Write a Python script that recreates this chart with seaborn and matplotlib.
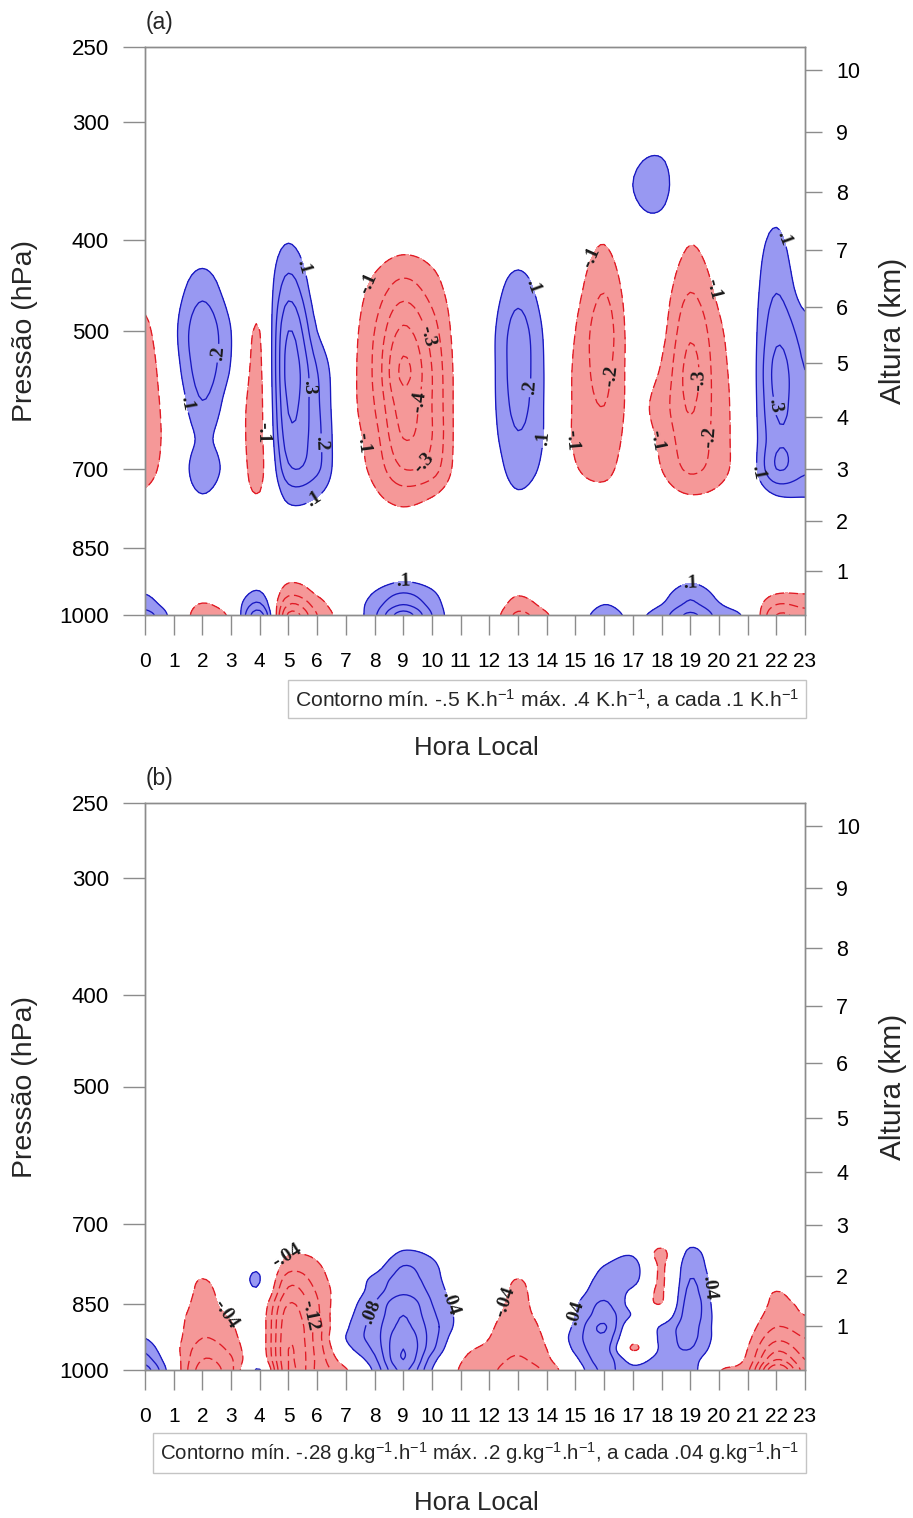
import numpy as np
import matplotlib
matplotlib.use("Agg")
import matplotlib.pyplot as plt
from matplotlib.ticker import NullLocator
import seaborn as sns

# ---------------------------------------------------------------------------
# Data
# ---------------------------------------------------------------------------
HOURS = [0, 1, 2, 3, 4, 5, 6, 7, 8, 9, 10, 11, 12, 13, 14, 15, 16, 17, 18, 19, 20, 21, 22, 23]

PRESS_TICKS = [250, 300, 400, 500, 700, 850, 1000]
ALT_TICKS_KM = [1, 2, 3, 4, 5, 6, 7, 8, 9, 10]

# (a) heating-rate anomaly (K/h), one row per pressure level, columns = local hour 0..23
LEV_A = [1000, 975, 950, 925, 900, 875, 850, 800, 750, 700, 650, 600, 550, 500, 450, 400, 350, 300, 250]
q1_p1000 = [0.25, 0.05, -0.17, -0.06, 0.35, -0.42, -0.20, -0.02, 0.18, 0.45, 0.20, 0.00, -0.02, -0.22, -0.11, 0.03, 0.14, 0.08, 0.15, 0.32, 0.16, 0.06, -0.30, -0.25]
q1_p975 = [0.15, 0.03, -0.11, -0.01, 0.22, -0.30, -0.15, 0.00, 0.15, 0.30, 0.16, 0.00, 0.00, -0.15, -0.06, 0.01, 0.10, 0.05, 0.10, 0.22, 0.11, 0.02, -0.20, -0.17]
q1_p950 = [0.10, 0.02, -0.04, 0.00, 0.12, -0.18, -0.09, 0.00, 0.11, 0.21, 0.12, 0.00, 0.00, -0.09, -0.02, 0.00, 0.05, 0.02, 0.06, 0.18, 0.07, 0.00, -0.10, -0.10]
q1_p925 = [0.05, 0.00, 0.00, 0.00, 0.06, -0.10, -0.05, 0.00, 0.06, 0.11, 0.07, 0.00, 0.00, -0.04, 0.00, 0.00, 0.01, 0.00, 0.02, 0.10, 0.03, 0.00, -0.04, -0.04]
q1_p900 = [0.02, 0.00, 0.00, 0.00, 0.02, -0.04, -0.02, 0.00, 0.02, 0.05, 0.02, 0.00, 0.00, 0.00, 0.00, 0.00, 0.00, 0.00, 0.00, 0.04, 0.00, 0.00, 0.00, 0.00]
q1_p875 = [0.00, 0.00, 0.00, 0.00, 0.00, 0.00, 0.00, 0.00, 0.00, 0.01, 0.00, 0.00, 0.00, 0.00, 0.00, 0.00, 0.00, 0.00, 0.00, 0.00, 0.00, 0.00, 0.00, 0.00]
q1_p850 = [0.00, 0.00, 0.00, 0.00, 0.00, 0.00, 0.00, 0.00, 0.00, 0.00, 0.00, 0.00, 0.00, 0.00, 0.00, 0.00, 0.00, 0.00, 0.00, 0.00, 0.00, 0.00, 0.00, 0.00]
q1_p800 = [-0.02, 0.00, 0.01, 0.00, -0.02, 0.03, 0.02, 0.00, -0.03, -0.05, -0.03, 0.00, 0.00, 0.00, 0.00, 0.00, 0.00, 0.00, -0.01, -0.02, -0.02, 0.00, 0.02, 0.02]
q1_p750 = [-0.08, -0.01, 0.09, 0.00, -0.09, 0.13, 0.10, -0.01, -0.08, -0.14, -0.10, -0.02, 0.00, 0.08, 0.02, -0.04, -0.06, -0.02, -0.05, -0.09, -0.07, -0.01, 0.09, 0.10]
q1_p700 = [-0.14, -0.02, 0.17, 0.03, -0.13, 0.28, 0.22, -0.02, -0.13, -0.30, -0.25, -0.04, 0.02, 0.15, 0.06, -0.09, -0.13, -0.04, -0.10, -0.22, -0.14, 0.00, 0.30, 0.22]
q1_p650 = [-0.17, -0.03, 0.12, 0.01, -0.13, 0.36, 0.23, -0.02, -0.16, -0.40, -0.30, -0.04, 0.05, 0.19, 0.08, -0.12, -0.17, -0.06, -0.12, -0.27, -0.15, 0.00, 0.28, 0.24]
q1_p600 = [-0.17, -0.01, 0.19, 0.03, -0.13, 0.41, 0.22, -0.03, -0.20, -0.45, -0.30, -0.04, 0.06, 0.23, 0.08, -0.12, -0.20, -0.07, -0.15, -0.31, -0.15, 0.00, 0.31, 0.23]
q1_p550 = [-0.17, 0.04, 0.25, 0.09, -0.12, 0.44, 0.20, -0.03, -0.22, -0.52, -0.30, -0.04, 0.06, 0.25, 0.08, -0.12, -0.23, -0.06, -0.11, -0.33, -0.14, 0.00, 0.33, 0.20]
q1_p500 = [-0.13, 0.07, 0.27, 0.10, -0.10, 0.40, 0.10, -0.03, -0.20, -0.42, -0.25, -0.03, 0.06, 0.24, 0.07, -0.10, -0.25, -0.05, -0.07, -0.28, -0.12, 0.01, 0.27, 0.15]
q1_p450 = [-0.05, 0.04, 0.16, 0.04, -0.04, 0.25, 0.03, -0.02, -0.13, -0.24, -0.15, -0.02, 0.03, 0.15, 0.03, -0.06, -0.19, -0.03, -0.04, -0.19, -0.07, 0.02, 0.19, 0.04]
q1_p400 = [0.00, 0.00, 0.02, 0.00, 0.00, 0.09, 0.00, -0.01, -0.03, -0.05, -0.04, 0.00, 0.00, 0.02, 0.00, -0.02, -0.09, 0.03, 0.03, -0.09, -0.02, 0.02, 0.12, 0.00]
q1_p350 = [0.00, 0.00, 0.00, 0.00, 0.00, 0.00, 0.00, 0.00, 0.00, 0.00, 0.00, 0.00, 0.00, 0.00, 0.00, 0.00, 0.00, 0.10, 0.135, -0.02, 0.00, 0.00, 0.03, 0.00]
q1_p300 = [0.00, 0.00, 0.00, 0.00, 0.00, 0.00, 0.00, 0.00, 0.00, 0.00, 0.00, 0.00, 0.00, 0.00, 0.00, 0.00, 0.00, 0.03, 0.03, 0.00, 0.00, 0.00, 0.00, 0.00]
q1_p250 = [0.00, 0.00, 0.00, 0.00, 0.00, 0.00, 0.00, 0.00, 0.00, 0.00, 0.00, 0.00, 0.00, 0.00, 0.00, 0.00, 0.00, 0.00, 0.00, 0.00, 0.00, 0.00, 0.00, 0.00]

# (b) moistening-rate anomaly (g/kg/h)
LEV_B = [1000, 975, 950, 925, 900, 875, 850, 825, 800, 775, 750, 725, 700]
q2_p1000 = [0.14, 0.00, -0.14, -0.09, 0.042, -0.20, -0.11, -0.045, 0.05, 0.17, 0.04, -0.045, -0.07, -0.10, -0.07, 0.01, 0.09, 0.05, 0.07, 0.06, -0.035, -0.07, -0.28, -0.14]
q2_p975 = [0.10, -0.01, -0.12, -0.085, 0.00, -0.20, -0.11, -0.01, 0.07, 0.20, 0.06, -0.035, -0.06, -0.085, -0.05, 0.03, 0.10, 0.02, 0.06, 0.06, -0.01, -0.05, -0.20, -0.12]
q2_p950 = [0.07, -0.02, -0.10, -0.07, -0.01, -0.20, -0.105, 0.02, 0.09, 0.20, 0.09, -0.02, -0.05, -0.075, -0.04, 0.05, 0.10, -0.045, 0.05, 0.08, 0.01, -0.04, -0.15, -0.10]
q2_p925 = [0.04, -0.02, -0.08, -0.055, -0.01, -0.195, -0.10, 0.04, 0.10, 0.19, 0.10, 0.00, -0.04, -0.08, -0.03, 0.06, 0.11, -0.02, 0.05, 0.09, 0.02, -0.03, -0.11, -0.08]
q2_p900 = [0.02, -0.02, -0.07, -0.045, -0.01, -0.19, -0.10, 0.03, 0.10, 0.17, 0.10, 0.02, -0.03, -0.075, -0.02, 0.05, 0.125, 0.00, 0.045, 0.095, 0.02, -0.02, -0.08, -0.06]
q2_p875 = [0.01, -0.02, -0.06, -0.035, -0.01, -0.18, -0.09, 0.02, 0.09, 0.16, 0.09, 0.025, -0.02, -0.06, -0.01, 0.04, 0.10, 0.035, 0.00, 0.10, 0.02, -0.01, -0.06, -0.04]
q2_p850 = [0.00, -0.01, -0.055, -0.02, 0.00, -0.16, -0.085, 0.01, 0.08, 0.15, 0.08, 0.02, -0.01, -0.055, 0.00, 0.035, 0.085, 0.02, -0.04, 0.10, 0.015, 0.00, -0.05, -0.03]
q2_p825 = [0.00, 0.00, -0.05, -0.01, 0.03, -0.13, -0.075, 0.00, 0.06, 0.11, 0.07, 0.01, 0.00, -0.05, 0.00, 0.02, 0.065, 0.03, -0.045, 0.09, 0.01, 0.00, -0.04, -0.01]
q2_p800 = [0.00, 0.00, -0.04, 0.00, 0.041, -0.10, -0.06, 0.00, 0.05, 0.095, 0.06, 0.00, 0.00, -0.04, 0.00, 0.01, 0.055, 0.06, -0.045, 0.08, 0.01, 0.00, -0.01, 0.00]
q2_p775 = [0.00, 0.00, -0.01, 0.00, 0.03, -0.06, -0.045, 0.00, 0.02, 0.08, 0.05, 0.00, 0.00, -0.01, 0.00, 0.00, 0.04, 0.06, -0.045, 0.07, 0.00, 0.00, 0.00, 0.00]
q2_p750 = [0.00, 0.00, 0.00, 0.00, 0.00, -0.035, -0.03, 0.00, 0.00, 0.045, 0.03, 0.00, 0.00, 0.00, 0.00, 0.00, 0.01, 0.03, -0.05, 0.05, 0.00, 0.00, 0.00, 0.00]
q2_p725 = [0.00, 0.00, 0.00, 0.00, 0.00, -0.01, -0.01, 0.00, 0.00, 0.01, 0.00, 0.00, 0.00, 0.00, 0.00, 0.00, 0.00, 0.00, -0.01, 0.02, 0.00, 0.00, 0.00, 0.00]
q2_p700 = [0.00, 0.00, 0.00, 0.00, 0.00, 0.00, 0.00, 0.00, 0.00, 0.00, 0.00, 0.00, 0.00, 0.00, 0.00, 0.00, 0.00, 0.00, 0.00, 0.00, 0.00, 0.00, 0.00, 0.00]

CLEV_A_NEG = [-0.5, -0.4, -0.3, -0.2, -0.1]
CLEV_A_POS = [0.1, 0.2, 0.3, 0.4]
CLEV_B_NEG = [-0.28, -0.24, -0.2, -0.16, -0.12, -0.08, -0.04]
CLEV_B_POS = [0.04, 0.08, 0.12, 0.16, 0.2]

# ---------------------------------------------------------------------------
# Styling
# ---------------------------------------------------------------------------
sns.set_theme(style="ticks")
plt.rcParams["font.family"] = ["Liberation Sans", "DejaVu Sans"]
plt.rcParams["mathtext.fontset"] = "custom"
plt.rcParams["mathtext.rm"] = "Liberation Sans"
plt.rcParams["mathtext.default"] = "rm"

pal = sns.color_palette(["#9898f2", "#f59898", "#1818c0", "#e01a24"])
BLUE_FILL, RED_FILL, BLUE_LINE, RED_LINE = pal
GRAY = "#8c8c8c"
DASH = (0, (7, 3.5))

W, H = 913, 1518


def fx(px):
    return px / W


def fy(py):
    return 1 - py / H


def isa_pressure(z_km):
    """Standard-atmosphere pressure (hPa) at height z (km)."""
    return 1013.25 * (1.0 - 2.25577e-5 * np.asarray(z_km) * 1000.0) ** 5.25588


def _catmull_rom(z, factor):
    n = z.shape[0]
    t = np.linspace(0, n - 1, (n - 1) * factor + 1)
    i = np.minimum(np.floor(t).astype(int), n - 2)
    s = (t - i)[:, None]
    p0 = z[np.maximum(i - 1, 0)]
    p1 = z[i]
    p2 = z[i + 1]
    p3 = z[np.minimum(i + 2, n - 1)]
    out = 0.5 * (2 * p1 + (p2 - p0) * s + (2 * p0 - 5 * p1 + 4 * p2 - p3) * s ** 2
                 + (3 * p1 - p0 - 3 * p2 + p3) * s ** 3)
    return out, t


def smooth_grid(field, levels, hours, factor=8):
    z = np.asarray(field, dtype=float)
    zh, th = _catmull_rom(z.T, factor)          # along time
    zz, tl = _catmull_rom(zh.T, factor)         # along pressure level index
    hf = np.interp(th, np.arange(len(hours)), hours)
    pf = np.exp(np.interp(tl, np.arange(len(levels)), np.log(levels)))
    return hf, pf, zz


def fmt_a(v):
    return f"{v:.1f}".replace("0.", ".")


def fmt_b(v):
    return f"{v:.2f}".replace("0.", ".")


def draw_panel(ax, field, levels, neg, pos, fmt, lab_neg, lab_pos):
    hf, pf, zf = smooth_grid(field, levels, HOURS)
    ax.set_yscale("log")
    ax.set_xlim(HOURS[0], HOURS[-1])
    ax.set_ylim(1000, 250)
    ax.contourf(hf, pf, zf, levels=[-10, neg[-1]], colors=[RED_FILL])
    ax.contourf(hf, pf, zf, levels=[pos[0], 10], colors=[BLUE_FILL])
    cn = ax.contour(hf, pf, zf, levels=neg, colors=[RED_LINE], linewidths=0.95,
                    linestyles=[DASH])
    cp = ax.contour(hf, pf, zf, levels=pos, colors=[BLUE_LINE], linewidths=0.95,
                    linestyles="solid")
    with plt.rc_context({"font.family": ["Liberation Serif"], "font.weight": "bold"}):
        ax.clabel(cn, fmt=fmt, manual=lab_neg, inline=True, inline_spacing=2,
                  fontsize=14, colors="k")
        ax.clabel(cp, fmt=fmt, manual=lab_pos, inline=True, inline_spacing=2,
                  fontsize=14, colors="k")

    ax.set_yticks(PRESS_TICKS)
    ax.set_yticklabels([str(p) for p in PRESS_TICKS])
    ax.yaxis.set_minor_locator(NullLocator())
    ax.set_xticks(HOURS)
    ax.set_xticklabels([str(h) for h in HOURS])
    ax.tick_params(axis="y", which="major", direction="out", length=16, width=1.0,
                   color=GRAY, labelcolor="black", labelsize=16, pad=10, left=True)
    ax.tick_params(axis="x", which="major", direction="out", length=14.5, width=1.0,
                   color=GRAY, labelcolor="black", labelsize=15, pad=12, bottom=True)
    for sp in ax.spines.values():
        sp.set_color(GRAY)
        sp.set_linewidth(1.0)
        sp.set_visible(True)

    tw = ax.twinx()
    tw.set_yscale("log")
    tw.set_ylim(1000, 250)
    tw.set_yticks(isa_pressure(ALT_TICKS_KM))
    tw.set_yticklabels([str(k) for k in ALT_TICKS_KM])
    tw.yaxis.set_minor_locator(NullLocator())
    tw.tick_params(axis="y", which="major", direction="out", length=12.5, width=1.0,
                   color=GRAY, labelcolor="black", labelsize=15.5, pad=10, right=True)
    for sp in tw.spines.values():
        sp.set_color(GRAY)
        sp.set_linewidth(1.0)


fig = plt.figure(figsize=(W / 100, H / 100), dpi=100)
fig.patch.set_facecolor("white")

ax_a = fig.add_axes([fx(145), fy(615), (805 - 145) / W, (615 - 47) / H])
ax_b = fig.add_axes([fx(145), fy(1370), (805 - 145) / W, (1370 - 803) / H])

field_a = [q1_p1000, q1_p975, q1_p950, q1_p925, q1_p900, q1_p875, q1_p850, q1_p800,
           q1_p750, q1_p700, q1_p650, q1_p600, q1_p550, q1_p500, q1_p450, q1_p400,
           q1_p350, q1_p300, q1_p250]
field_b = [q2_p1000, q2_p975, q2_p950, q2_p925, q2_p900, q2_p875, q2_p850, q2_p825,
           q2_p800, q2_p775, q2_p750, q2_p725, q2_p700]

lab_a_neg = [(3.83, 641), (7.9, 447), (9.7, 507), (9.35, 593), (7.75, 657), (9.93, 700),
             (15.8, 421), (16.2, 558), (15.2, 652), (19.6, 453), (19.2, 563),
             (18.0, 652), (19.5, 647)]
lab_a_pos = [(1.4, 597), (2.27, 527), (5.5, 428), (5.75, 574), (6.1, 657), (5.86, 750),
             (9.0, 929), (19.0, 929), (13.4, 450), (13.25, 574), (13.8, 650),
             (22.2, 399), (22.0, 600), (21.4, 705)]
lab_b_neg = [(2.67, 881), (5.0, 759), (5.6, 876), (12.6, 847)]
lab_b_pos = [(8.1, 872), (10.45, 853), (15.1, 872), (19.8, 818)]

draw_panel(ax_a, field_a, LEV_A, CLEV_A_NEG, CLEV_A_POS, fmt_a, lab_a_neg, lab_a_pos)
draw_panel(ax_b, field_b, LEV_B, CLEV_B_NEG, CLEV_B_POS, fmt_b, lab_b_neg, lab_b_pos)

# Titles and axis captions
fig.text(fx(146), fy(22), "(a)", ha="left", va="center", fontsize=16.5)
fig.text(fx(146), fy(778), "(b)", ha="left", va="center", fontsize=16.5)
for yc in (331, 1087):
    fig.text(fx(25), fy(yc), "Pressão (hPa)", rotation=90, ha="center", va="center",
             fontsize=20.5)
    fig.text(fx(893), fy(yc), "Altura (km)", rotation=90, ha="center", va="center",
             fontsize=21.5)
for yc in (748, 1503):
    fig.text(fx(476), fy(yc), "Hora Local", ha="center", va="center", fontsize=18.5)

box = dict(boxstyle="square,pad=0.32", fc="white", ec="#c4c4c4", lw=1.0)
fig.text(fx(799), fy(699),
         "Contorno mín. -.5 K.h$^{-1}$ máx. .4 K.h$^{-1}$, a cada .1 K.h$^{-1}$",
         ha="right", va="center", fontsize=15.2, bbox=box)
fig.text(fx(799), fy(1453),
         "Contorno mín. -.28 g.kg$^{-1}$.h$^{-1}$ máx. .2 g.kg$^{-1}$.h$^{-1}$, "
         "a cada .04 g.kg$^{-1}$.h$^{-1}$",
         ha="right", va="center", fontsize=14.8, bbox=box)

fig.savefig("out.png", dpi=100, facecolor="white")
